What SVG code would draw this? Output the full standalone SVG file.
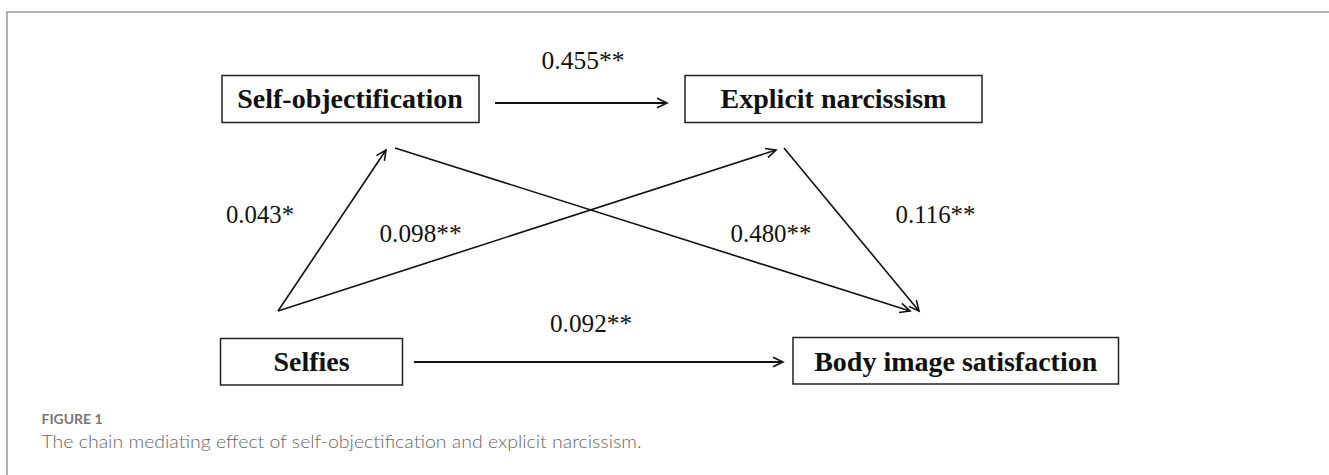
<svg xmlns="http://www.w3.org/2000/svg" width="1329" height="475" viewBox="0 0 1329 475">
<style>
.box{fill:#fff;stroke:#222;stroke-width:1.5}
.lbl{font-family:"Liberation Serif","Times New Roman",serif;font-weight:bold;font-size:28px;fill:#111;text-anchor:middle}
.num{font-family:"Liberation Serif","Times New Roman",serif;font-size:25px;fill:#111}
.h{stroke:#111;stroke-width:2;fill:none}
.d{stroke:#111;stroke-width:1.6;fill:none}
.frame{stroke:#999;stroke-width:1.5;fill:none}
.cap1{font-family:Lato,"Open Sans",sans-serif;font-weight:bold;font-size:13px;fill:#777}
.cap2{font-family:Lato,"Open Sans",sans-serif;font-weight:300;font-size:18px;fill:#666}
</style>
<defs>
<marker id="arr" markerUnits="userSpaceOnUse" markerWidth="14" markerHeight="14" refX="11" refY="6" orient="auto" viewBox="0 0 14 12">
<path d="M1,1.2 L11,6 L1,10.8" fill="none" stroke="#111" stroke-width="1.6"/>
</marker>
</defs>
<rect width="1329" height="475" fill="#fff"/>
<path class="frame" d="M7,475 L7,12 L1329,12"/>
<g id="connectors">
<line class="h" x1="495" y1="103" x2="667" y2="103" marker-end="url(#arr)"/>
<line class="h" x1="414" y1="362" x2="783" y2="362" marker-end="url(#arr)"/>
<line class="d" x1="278" y1="311" x2="386" y2="150" marker-end="url(#arr)"/>
<line class="d" x1="278" y1="311" x2="776" y2="150" marker-end="url(#arr)"/>
<line class="d" x1="395" y1="148" x2="910" y2="311" marker-end="url(#arr)"/>
<line class="d" x1="784" y1="148" x2="919" y2="311" marker-end="url(#arr)"/>
<text class="num" x="541.5" y="69" textLength="83" lengthAdjust="spacingAndGlyphs">0.455**</text>
<text class="num" x="226" y="223" textLength="68" lengthAdjust="spacingAndGlyphs">0.043*</text>
<text class="num" x="379.5" y="242" textLength="82" lengthAdjust="spacingAndGlyphs">0.098**</text>
<text class="num" x="730.5" y="242" textLength="81" lengthAdjust="spacingAndGlyphs">0.480**</text>
<text class="num" x="895.5" y="223" textLength="80" lengthAdjust="spacingAndGlyphs">0.116**</text>
<text class="num" x="550" y="332" textLength="82" lengthAdjust="spacingAndGlyphs">0.092**</text>
</g>
<g id="self-objectification">
<rect class="box" x="222" y="75.5" width="257" height="47"/>
<text class="lbl" x="350" y="108">Self-objectification</text>
</g>
<g id="explicit-narcissism">
<rect class="box" x="685" y="75.5" width="297" height="47"/>
<text class="lbl" x="833.5" y="108">Explicit narcissism</text>
</g>
<g id="selfies">
<rect class="box" x="220.5" y="338.5" width="182" height="46.5"/>
<text class="lbl" x="311.5" y="371">Selfies</text>
</g>
<g id="body-image-satisfaction">
<rect class="box" x="793" y="337.5" width="325.5" height="46.5"/>
<text class="lbl" x="955.7" y="371">Body image satisfaction</text>
</g>
<text class="cap1" x="41.5" y="423.5" textLength="61" lengthAdjust="spacingAndGlyphs">FIGURE 1</text>
<text class="cap2" x="41.5" y="448" textLength="600" lengthAdjust="spacingAndGlyphs">The chain mediating effect of self-objectification and explicit narcissism.</text>
</svg>
